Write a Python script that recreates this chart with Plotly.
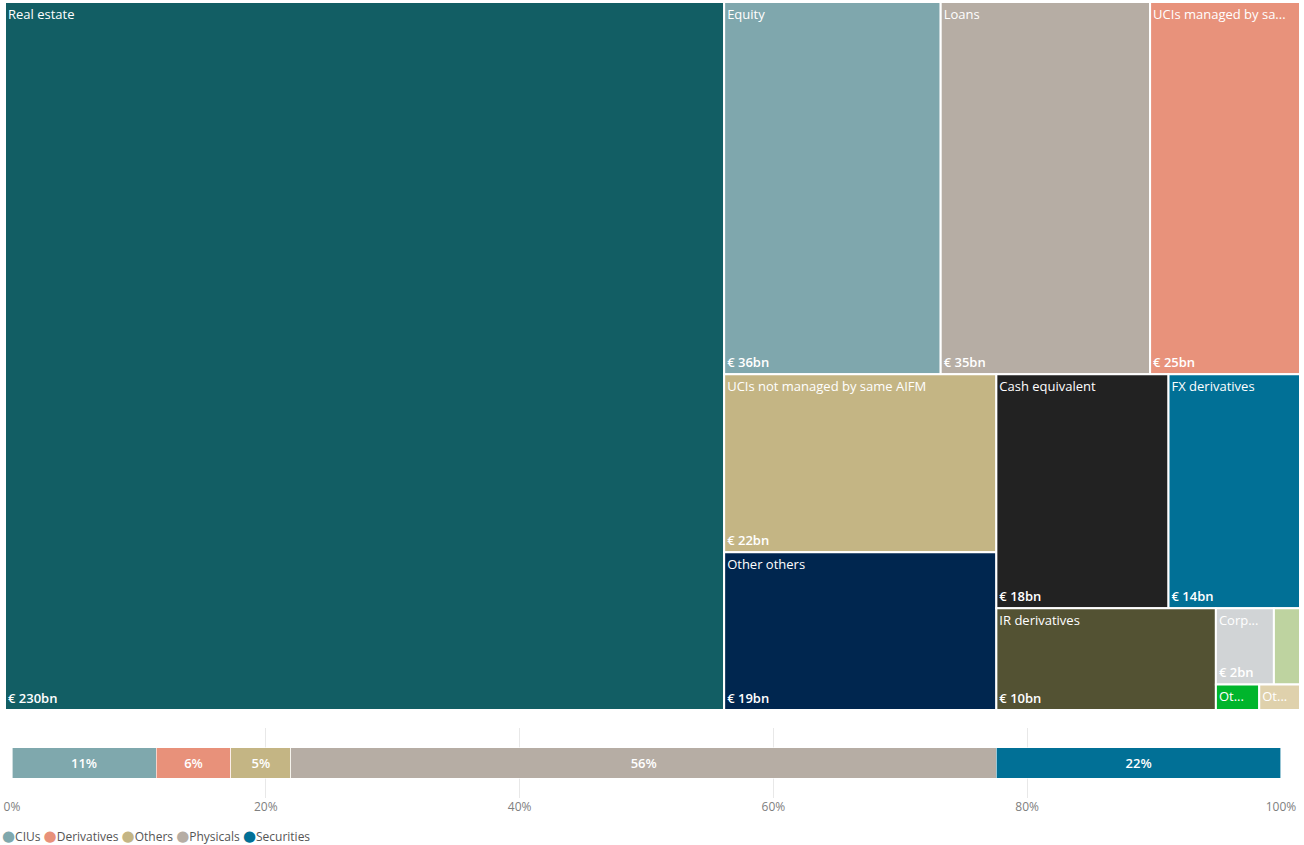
import plotly.graph_objects as go

# ---- Treemap data (EUR bn) ----
labels = ["Real estate", "Equity", "Loans", "UCIs managed by same AIFM",
          "UCIs not managed by same AIFM", "Other others", "Cash equivalent",
          "FX derivatives", "IR derivatives", "Corporate bonds",
          "Government bonds", "Other derivatives", "Other physicals"]
values = [230, 36.4, 35.2, 25.2, 21.9, 19.4, 18.2, 13.9, 10.1, 2.0, 0.9, 0.5, 0.47]
shown_labels = ["Real estate", "Equity", "Loans", "UCIs managed by sa...",
                "UCIs not managed by same AIFM", "Other others", "Cash equivalent",
                "FX derivatives", "IR derivatives", "Corp...", "", "Ot...", "Ot..."]
show_value = [True, True, True, True, True, True, True, True, True, True, False, False, False]
tile_colors = ["#125E64", "#7FA7AD", "#B6ADA4", "#E8927B", "#C4B584", "#00264F",
               "#222222", "#017096", "#535233", "#D1D4D6", "#BED3A0", "#00B52C", "#DFD1AC"]

# ---- Bar data (share of total, %) ----
groups = ["CIUs", "Derivatives", "Others", "Physicals", "Securities"]
shares = [11.35, 5.9, 4.73, 55.6, 22.4]
group_colors = ["#7FA8AD", "#E8917A", "#C4B584", "#B6ADA4", "#017096"]
tick_vals = [0, 20, 40, 60, 80, 100]
tick_text = ["0%", "20%", "40%", "60%", "80%", "100%"]

W, H = 1304, 845
FONT = "Open Sans, Segoe UI, sans-serif"

tm_domain = dict(x=[5 / W, 1300 / W], y=[1 - 710 / H, 1 - 2 / H])
no_pad = dict(t=0, l=0, r=0, b=0)

fig = go.Figure()
parents = [""] * len(labels)

# tiles with name labels (top left)
fig.add_trace(go.Treemap(
    labels=labels, parents=parents, values=values,
    customdata=shown_labels,
    texttemplate="%{customdata}",
    textposition="top left",
    tiling=dict(packing="squarify", squarifyratio=1.618034, pad=0),
    marker=dict(colors=tile_colors, line=dict(color="white", width=2), pad=no_pad),
    textfont=dict(family=FONT, size=13, color="white"),
    domain=tm_domain, sort=True, pathbar=dict(visible=False),
    hovertemplate="%{label}<br>€ %{value}bn<extra></extra>",
))
# transparent overlay with value labels (bottom left)
fig.add_trace(go.Treemap(
    labels=labels, parents=parents, values=values,
    texttemplate=["€ %{value:.0f}bn" if s else "" for s in show_value],
    textposition="bottom left",
    tiling=dict(packing="squarify", squarifyratio=1.618034, pad=0),
    marker=dict(colors=["rgba(0,0,0,0)"] * len(labels), line=dict(width=0), pad=no_pad),
    textfont=dict(family=FONT, size=13, color="white", weight=600),
    domain=tm_domain, sort=True, pathbar=dict(visible=False),
    hovertemplate="%{label}<br>€ %{value}bn<extra></extra>",
))

for g, s, c in zip(groups, shares, group_colors):
    fig.add_trace(go.Bar(
        x=[s], y=["Total"], orientation="h", name=g,
        marker=dict(color=c, line=dict(color="rgba(255,255,255,0.6)", width=1)),
        width=0.44,
        text=[f"{s:.0f}%"], textposition="inside", insidetextanchor="middle",
        textangle=0,
        textfont=dict(family=FONT, size=13, color="white", weight=600),
        showlegend=False, xaxis="x", yaxis="y",
        hovertemplate=g + ": %{x}%<extra></extra>",
    ))

legend_html = " ".join(
    f"<span style='color:{c};font-family:DejaVu Sans;font-size:15px'>●</span>{g}"
    for g, c in zip(groups, group_colors)
)

fig.update_layout(
    width=W, height=H,
    margin=dict(l=0, r=0, t=0, b=0, autoexpand=False),
    paper_bgcolor="white", plot_bgcolor="white",
    barmode="stack",
    uniformtext=dict(minsize=13, mode="show"),
    showlegend=False,
    font=dict(family=FONT, size=12, color="#666666"),
    xaxis=dict(domain=[12 / W, 1281 / W], range=[0, 100], tickvals=tick_vals,
               ticktext=tick_text, showgrid=True, gridcolor="#E8E8E8", gridwidth=1,
               zeroline=False, showline=False, ticks="", automargin=False,
               tickfont=dict(family=FONT, size=12, color="#808080"), fixedrange=True),
    yaxis=dict(domain=[1 - 798 / H, 1 - 728 / H], range=[-0.5, 0.5], visible=False,
               automargin=False, fixedrange=True),
    annotations=[dict(
        text=legend_html, x=0, y=1 - 836 / H, xref="paper", yref="paper",
        xanchor="left", yanchor="middle", showarrow=False,
        font=dict(family=FONT, size=12, color="#555555"),
    )],
)

fig.write_html("out.html", config={"displayModeBar": False},
               post_script="document.body.style.margin='0';document.body.style.overflow='hidden';")
